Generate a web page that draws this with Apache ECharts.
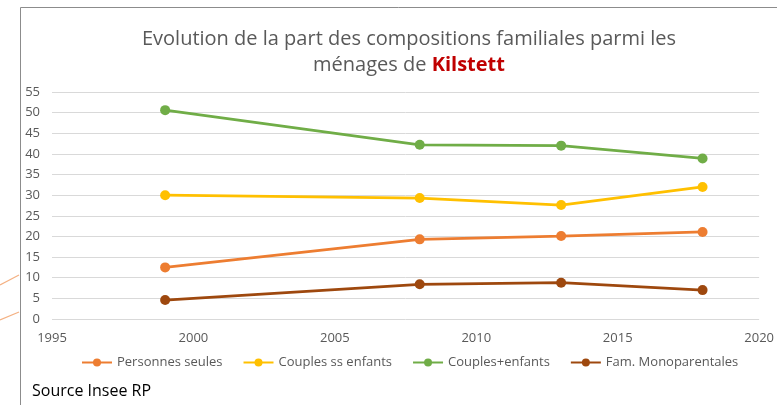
<!DOCTYPE html>
<html>
<head>
<meta charset="utf-8">
<script src="https://cdn.jsdelivr.net/npm/echarts@6/dist/echarts.min.js"></script>
<style>
  html, body { margin: 0; padding: 0; background: #fff; }
  #chart { width: 777px; height: 405px; }
</style>
</head>
<body>
<div id="chart"></div>
<script>
var years = [1999, 2008, 2013, 2018];
var seriesNames = ['Personnes seules', 'Couples ss enfants', 'Couples+enfants', 'Fam. Monoparentales'];
var personnesSeules = [12.5, 19.3, 20.1, 21.1];
var couplesSsEnfants = [30, 29.3, 27.6, 32];
var couplesEnfants = [50.6, 42.2, 42, 38.9];
var famMono = [4.6, 8.4, 8.8, 7];
var colors = ['#ED7D31', '#FFC000', '#70AD47', '#9E480E'];

var chart = echarts.init(document.getElementById('chart'));

function pts(vals) {
  return vals.map(function(v, i) { return [years[i], v]; });
}

function makeSeries(name, vals, color) {
  return {
    name: name,
    type: 'line',
    data: pts(vals),
    symbol: 'circle',
    symbolSize: 10,
    lineStyle: { width: 2.75, color: color },
    itemStyle: { color: color },
    animation: false
  };
}

var option = {
  textStyle: { fontFamily: 'Open Sans' },
  title: {
    text: 'Evolution de la part des compositions familiales parmi les\nménages de {k|Kilstett}',
    left: 404,
    textAlign: 'center',
    top: 21,
    textStyle: {
      fontSize: 20,
      fontWeight: 'normal',
      color: '#595959',
      lineHeight: 26,
      rich: {
        k: { fontSize: 20, fontWeight: 'bold', color: '#C00000', lineHeight: 26 }
      }
    }
  },
  legend: {
    bottom: 31,
    left: 76,
    itemWidth: 30,
    itemHeight: 10,
    itemGap: 20,
    textStyle: { fontSize: 13, color: '#595959' },
    data: seriesNames
  },
  grid: { left: 52, right: 11, top: 92, bottom: 86 },
  xAxis: {
    type: 'value',
    min: 1995,
    max: 2020,
    interval: 5,
    axisLine: { show: false },
    axisTick: { show: false },
    splitLine: { show: false },
    axisLabel: { color: '#595959', fontSize: 13, margin: 13, formatter: function(v) { return String(v); } }
  },
  yAxis: {
    type: 'value',
    min: 0,
    max: 55,
    interval: 5,
    axisLine: { show: false },
    axisTick: { show: false },
    splitLine: { lineStyle: { color: '#d9d9d9', width: 1 } },
    axisLabel: { color: '#595959', fontSize: 13, margin: 12 }
  },
  graphic: [
    { type: 'line', shape: { x1: 20.5, y1: 7.5, x2: 777, y2: 7.5 }, style: { stroke: '#8c8c8c', lineWidth: 1 } },
    { type: 'line', shape: { x1: 20.5, y1: 7.5, x2: 20.5, y2: 405 }, style: { stroke: '#8c8c8c', lineWidth: 1 } },
    { type: 'line', shape: { x1: 0, y1: 285, x2: 19, y2: 275 }, style: { stroke: '#F4B183', lineWidth: 1.2 } },
    { type: 'line', shape: { x1: 0, y1: 320, x2: 19, y2: 312 }, style: { stroke: '#F4B183', lineWidth: 1.2 } },
    { type: 'text', left: 32, top: 383, style: { text: 'Source Insee RP', fontSize: 16, fill: '#000', fontFamily: 'Open Sans' } }
  ],
  series: [
    makeSeries(seriesNames[0], personnesSeules, colors[0]),
    makeSeries(seriesNames[1], couplesSsEnfants, colors[1]),
    makeSeries(seriesNames[2], couplesEnfants, colors[2]),
    makeSeries(seriesNames[3], famMono, colors[3])
  ]
};
chart.setOption(option);
</script>
</body>
</html>
